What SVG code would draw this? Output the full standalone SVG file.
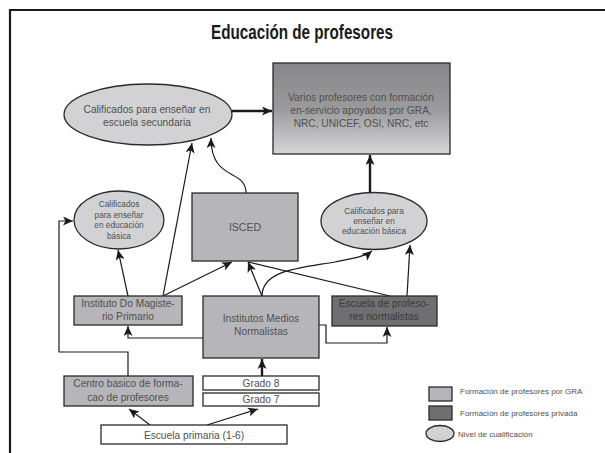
<svg xmlns="http://www.w3.org/2000/svg" width="605" height="453" viewBox="0 0 605 453">
<defs>
<linearGradient id="g1" x1="0" y1="0" x2="0" y2="1">
<stop offset="0" stop-color="#878789"/>
<stop offset="0.5" stop-color="#9a9a9c"/>
<stop offset="1" stop-color="#d6d6d8"/>
</linearGradient>
<marker id="ah" markerUnits="userSpaceOnUse" markerWidth="11" markerHeight="9" refX="10" refY="4.5" orient="auto">
<path d="M0,0 L10,4.5 L0,9 L2.5,4.5 z" fill="#1a1a1a"/>
</marker>
<style>
.box{fill:#b6b6ba;stroke:#2a2a2a;stroke-width:1.3}
.dark{fill:#6f6f72;stroke:#2a2a2a;stroke-width:1.3}
.white{fill:#ffffff;stroke:#2a2a2a;stroke-width:1.3}
.ell{fill:#d2d2d4;stroke:#2a2a2a;stroke-width:1.3}
.t{font-family:"Liberation Sans",Arial,sans-serif;font-size:10.2px;fill:#505050;text-anchor:middle}
.s{font-family:"Liberation Sans",Arial,sans-serif;font-size:8.3px;fill:#505050;text-anchor:middle}
.l{font-family:"Liberation Sans",Arial,sans-serif;font-size:8px;fill:#505050}
.c{fill:none;stroke:#1a1a1a;stroke-width:1.2;marker-end:url(#ah)}
.k{fill:none;stroke:#1a1a1a;stroke-width:2.4;marker-end:url(#ah)}
.n{fill:none;stroke:#1a1a1a;stroke-width:1.2}
</style>
</defs>
<rect width="605" height="453" fill="#ffffff"/>
<path d="M10,453 V10 H605" fill="none" stroke="#1a1a1a" stroke-width="2.2"/>
<text x="302" y="39" font-family="Liberation Sans,Arial,sans-serif" font-weight="bold" font-size="21" fill="#1a1a1a" text-anchor="middle" textLength="182" lengthAdjust="spacingAndGlyphs">Educación de profesores</text>

<g id="connectors">
<path class="k" d="M232,111 H272"/>
<path class="k" d="M370,193 V155"/>
<path class="c" d="M246,193 C246,168 211,182 211,138"/>
<path class="c" d="M163,296 L192,143"/>
<path class="c" d="M128,296 L118,250"/>
<path class="c" d="M163,296 L232,262"/>
<path class="c" d="M262,296 L248,262"/>
<path class="n" d="M390,296 L248,262"/>
<path class="c" d="M262,296 C262,270 300,268 335,262 C355,258 366,256 372,251"/>
<path class="c" d="M407,296 L410,245"/>
<path class="c" d="M203,338 H128 V326"/>
<path class="c" d="M319,325 H326 V343 H387 V327"/>
<path class="c" d="M128,376 V352 H59 V221 H73"/>
<path class="k" d="M262,376 V359"/>
<path class="c" d="M150,425 L129,409"/>
<path class="c" d="M207,425 L258,409"/>
</g>

<g id="topbox">
<rect x="273" y="63" width="177" height="91" fill="url(#g1)" stroke="#2a2a2a" stroke-width="1.3"/>
<text class="t" x="361" y="101">Varios profesores con formación</text>
<text class="t" x="361" y="114">en-servicio apoyados por GRA,</text>
<text class="t" x="361" y="127">NRC, UNICEF, OSI, NRC, etc</text>
</g>

<g id="secundaria">
<ellipse class="ell" cx="148" cy="114.5" rx="84" ry="30.5"/>
<text class="t" x="147" y="113">Calificados para enseñar en</text>
<text class="t" x="147" y="126">escuela secundaria</text>
</g>

<g id="basica-left">
<ellipse class="ell" cx="119" cy="220" rx="45" ry="29"/>
<text class="s" x="119" y="207">Calificados</text>
<text class="s" x="119" y="217.5">para enseñar</text>
<text class="s" x="119" y="228">en educación</text>
<text class="s" x="119" y="238.5">básica</text>
</g>

<g id="isced">
<rect class="box" x="192" y="193" width="106" height="68"/>
<text class="t" x="245" y="231" style="font-size:10.5px">ISCED</text>
</g>

<g id="basica-right">
<ellipse class="ell" cx="374" cy="221" rx="53" ry="28.5"/>
<text class="s" x="374" y="214">Calificados para</text>
<text class="s" x="374" y="224">enseñar en</text>
<text class="s" x="374" y="234">educación básica</text>
</g>

<g id="magisterio">
<rect class="box" x="74" y="296" width="108" height="29"/>
<text class="t" x="128" y="307">Instituto Do Magiste-</text>
<text class="t" x="128" y="320">rio Primario</text>
</g>

<g id="medios">
<rect class="box" x="203" y="296" width="116" height="62"/>
<text class="t" x="261" y="322">Institutos Medios</text>
<text class="t" x="261" y="335">Normalistas</text>
</g>

<g id="escuela-normalistas">
<rect class="dark" x="332" y="296" width="105" height="30"/>
<text class="t" x="384" y="307" style="fill:#3a3a3a">Escuela de profeso-</text>
<text class="t" x="384" y="320" style="fill:#3a3a3a">res normalistas</text>
</g>

<g id="centro">
<rect class="box" x="64" y="376" width="129" height="30"/>
<text class="t" x="128" y="387">Centro basico de forma-</text>
<text class="t" x="128" y="401">cao de profesores</text>
</g>

<g id="grado8">
<rect class="white" x="203" y="376" width="116" height="14"/>
<text class="t" x="261" y="386.5">Grado 8</text>
</g>

<g id="grado7">
<rect class="white" x="203" y="393" width="116" height="13"/>
<text class="t" x="261" y="403">Grado 7</text>
</g>

<g id="primaria">
<rect class="white" x="101" y="425" width="186" height="19"/>
<text class="t" x="194" y="438.5">Escuela primaria (1-6)</text>
</g>

<g id="legend">
<rect class="box" x="429" y="387" width="23" height="14"/>
<text class="l" x="460" y="394">Formación de profesores por GRA</text>
<rect class="dark" x="429" y="406" width="23" height="14"/>
<text class="l" x="460" y="416">Formación de profesores privada</text>
<ellipse class="ell" cx="440" cy="433.5" rx="14" ry="8"/>
<text class="l" x="458" y="437">Nivel de cualificación</text>
</g>
</svg>
